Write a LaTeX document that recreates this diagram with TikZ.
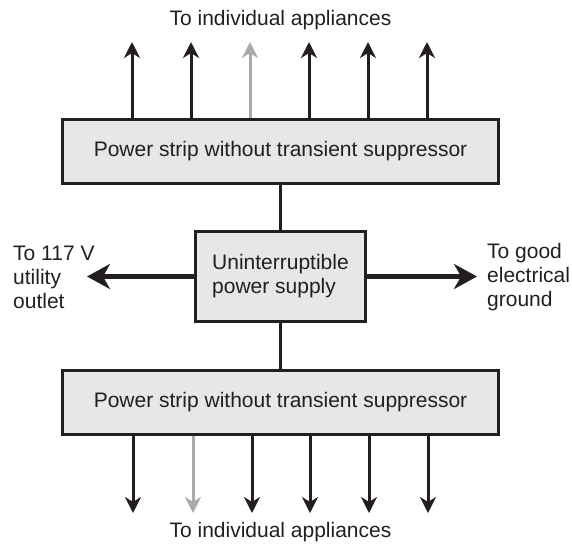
\documentclass[tikz,border=0pt]{standalone}
\usepackage{fontspec}
\setmainfont{Liberation Sans}
\usepackage{tikz}
\usetikzlibrary{arrows.meta,positioning}
\definecolor{base03}{RGB}{35,31,32}
\definecolor{boxfill}{RGB}{230,231,232}
\definecolor{greyarrow}{RGB}{170,170,170}

\begin{document}
\begin{tikzpicture}[x=1pt,y=-1pt,
    every node/.style={font=\fontsize{21}{24}\selectfont,text=base03,inner sep=0pt},
    strip/.style={draw=base03,fill=boxfill,line width=3pt,minimum width=436pt,minimum height=64pt},
    ups/.style={draw=base03,fill=boxfill,line width=3pt,minimum width=170pt,minimum height=90pt,align=left},
    outlet/.style={draw=base03,line width=3pt,-{Stealth[length=16pt,width=16pt,inset=5pt]}},
    feed/.style={draw=base03,line width=5pt,-{Stealth[length=23pt,width=25pt,inset=7pt]}}]
        \useasboundingbox (0,0) rectangle (572,547);
        % boxes
        \node[strip] (top) at (280.5,151.5) {Power strip without transient suppressor};
        \node[ups] (ups) at (280.5,276.5) {Uninterruptible\\power supply};
        \node[strip] (bottom) at (280.5,402.5) {Power strip without transient suppressor};
        \draw[draw=base03, line width=3pt] (top) -- (ups);
        \draw[draw=base03, line width=3pt] (ups) -- (bottom);
        % outlets
        \foreach \x [count=\i] in {132,191,250,309,368,427}
            \coordinate (up\i) at (\x,42);
        \foreach \x [count=\i] in {133,193,252,310,369,428}
            \coordinate (down\i) at (\x,513);
        \foreach \i in {1,2,4,5,6}
            \draw[outlet] (up\i |- top.north) -- (up\i);
        \draw[outlet, draw=greyarrow] (up3 |- top.north) -- (up3);
        \foreach \i in {1,3,4,5,6}
            \draw[outlet] (down\i |- bottom.south) -- (down\i);
        \draw[outlet, draw=greyarrow] (down2 |- bottom.south) -- (down2);
        % mains and ground
        \coordinate (mains) at (87,276.5);
        \coordinate (ground) at (477,276.5);
        \draw[feed] (ups.west) -- (mains);
        \draw[feed] (ups.east) -- (ground);
        % labels
        \node[anchor=base] (applup) at (280.5,25) {To individual appliances};
        \node[anchor=base] (appldown) at (280.5,537) {To individual appliances};
        \node[anchor=west, align=left] (mainslabel) at (13,277.5) {To 117 V\\utility\\outlet};
        \node[anchor=west, align=left] (groundlabel) at (487,277.5) {To good\\electrical\\ground};
\end{tikzpicture}
\end{document}
